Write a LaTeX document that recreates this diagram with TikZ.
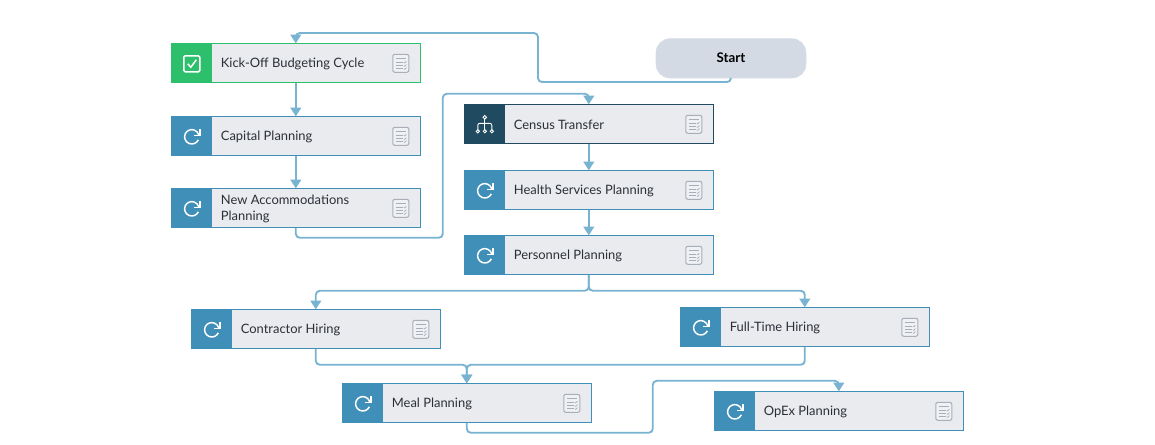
\documentclass[tikz,border=0pt]{standalone}
\usepackage{fontspec}
\setmainfont{Lato}
\usetikzlibrary{arrows.meta,calc}
\definecolor{linkc}{HTML}{78B3D1}
\definecolor{bodyc}{HTML}{E9EBEF}
\definecolor{blueic}{HTML}{3F8FB9}
\definecolor{greenic}{HTML}{2EBF6C}
\definecolor{darkic}{HTML}{1F4A60}
\definecolor{startc}{HTML}{D3DAE4}
\definecolor{docc}{HTML}{A9AFB8}
\definecolor{txtc}{HTML}{2B2F36}
\tikzset{
  x=0.75pt,y=-0.75pt,
  taskbody/.style={draw=#1,line width=0.75pt,fill=bodyc,minimum width=187.2pt,minimum height=29.6pt,inner sep=0pt,outer sep=0pt,anchor=north west},
  taskicon/.style={fill=#1,draw=none,minimum width=30.75pt,minimum height=29.6pt,inner sep=0pt,outer sep=0pt,anchor=north west},
  tasktext/.style={anchor=west,align=left,inner sep=0pt,text=txtc,font=\fontsize{9.7pt}{12pt}\selectfont},
  startbox/.style={fill=startc,draw=startc!90!white,rounded corners=10.5pt,minimum width=112.5pt,minimum height=29.5pt,inner sep=0pt,outer sep=0pt,anchor=north west,text depth=1pt,font=\fontsize{10pt}{12pt}\selectfont\bfseries},
  link/.style={draw=linkc,line width=1.4pt,rounded corners=3pt,-{Triangle[width=8pt,length=6.5pt]}},
  docicon/.style={draw=docc,line width=0.8pt,fill=bodyc!70!white,rounded corners=1.5pt},
  docline/.style={draw=docc,line width=0.5pt},
  whiteic/.style={draw=white,line width=1.1pt},
}
\newcommand{\docglyph}[1]{%
  \begin{scope}[shift={(#1)}]
    \draw[docicon] (-8,-9) rectangle (8,9);
    \foreach \yy in {-4.5,-1,2.5,5.5}{\draw[docline] (-5,\yy) -- (2.5,\yy);}
    \foreach \yy in {-1,2.5,5.5}{\draw[docline] (3,\yy) -- (4,{\yy+0.6}) -- (5.6,{\yy-1.2});}
    \draw[docline] (2.5,-4.5) -- (5.5,-4.5);
  \end{scope}}
\newcommand{\refreshglyph}[1]{%
  \begin{scope}[shift={(#1)}]
    \draw[whiteic] (25:7.2) arc[start angle=25,end angle=345,radius=7.2];
    \draw[whiteic,line join=miter] (2.2,-1.5) -- (8,-1.5) -- (8,-7.6);
  \end{scope}}
\newcommand{\checkglyph}[1]{%
  \begin{scope}[shift={(#1)}]
    \draw[whiteic,rounded corners=1pt] (-8,-8) rectangle (8,8);
    \draw[whiteic] (-4,0) -- (-1,3.5) -- (4.5,-4);
  \end{scope}}
\newcommand{\treeglyph}[1]{%
  \begin{scope}[shift={(#1)}]
    \draw[white,line width=0.7pt] (0,-7.5) circle (1.8);
    \draw[white,line width=0.7pt] (-7,6.5) circle (1.6) (0,6.5) circle (1.6) (7,6.5) circle (1.6);
    \draw[white,line width=0.7pt] (0,-5.7) -- (0,4.9);
    \draw[white,line width=0.7pt,rounded corners=1.5pt] (-7,4.9) -- (-7,-1.5) -- (7,-1.5) -- (7,4.9);
  \end{scope}}
\newcommand{\task}[6]{%
  \node[taskbody=#4] (#1) at (#2,#3) {};
  \node[taskicon=#4] (#1-ic) at (#2,#3) {};
  \node[tasktext] (#1-t) at ($(#2,#3)+(49.6,20.4)$) {#6};
  #5{$(#2,#3)+(20.8,20.5)$}
  \docglyph{$(#2,#3)+(229.8,20)$}
}
\begin{document}
\begin{tikzpicture}
\useasboundingbox (0,0) rectangle (1155,445);
\task{kick}{171}{43.3}{greenic}{\checkglyph}{Kick-Off Budgeting Cycle}
\task{capital}{171}{116.3}{blueic}{\refreshglyph}{Capital Planning}
\task{accom}{171}{188.3}{blueic}{\refreshglyph}{New Accommodations\\Planning}
\task{census}{464}{104.3}{darkic}{\treeglyph}{Census Transfer}
\task{health}{464}{170.3}{blueic}{\refreshglyph}{Health Services Planning}
\task{personnel}{464}{235.3}{blueic}{\refreshglyph}{Personnel Planning}
\task{contractor}{191}{309.3}{blueic}{\refreshglyph}{Contractor Hiring}
\task{fulltime}{680}{307.3}{blueic}{\refreshglyph}{Full-Time Hiring}
\task{meal}{342}{383.3}{blueic}{\refreshglyph}{Meal Planning}
\task{opex}{714}{391.3}{blueic}{\refreshglyph}{OpEx Planning}
\node[startbox] (start) at (656,38.7) {Start};
\draw[link] (start.south) -- ++(0,4) -- ++(-193,0) -- ++(0,-49) -| (kick.north);
\draw[link] (kick.south) -- (capital.north);
\draw[link] (capital.south) -- (accom.north);
\draw[link] (accom.south) -- ++(0,10) -- ++(147,0) -- ++(0,-144) -| (census.north);
\draw[link] (census.south) -- (health.north);
\draw[link] (health.south) -- (personnel.north);
\draw[link] (personnel.south) -- ++(0,16) -| (contractor.north);
\draw[link] (personnel.south) -- ++(0,16) -| (fulltime.north);
\draw[link] (contractor.south) -- ++(0,16) -| (meal.north);
\draw[link] (fulltime.south) -- ++(0,18) -| (meal.north);
\draw[link] (meal.south) -- ++(0,10) -- ++(186,0) -- ++(0,-52) -| (opex.north);
\end{tikzpicture}
\end{document}
